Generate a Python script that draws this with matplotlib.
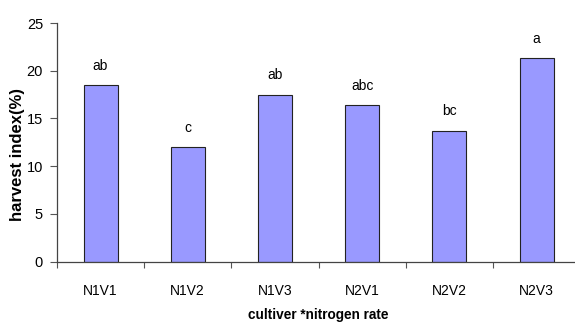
import matplotlib
matplotlib.use("Agg")
import matplotlib.pyplot as plt
import numpy as np

categories = ["N1V1", "N1V2", "N1V3", "N2V1", "N2V2", "N2V3"]
values = [18.5, 12.0, 17.5, 16.4, 13.7, 21.3]
letters = ["ab", "c", "ab", "abc", "bc", "a"]
yticks = [0, 5, 10, 15, 20, 25]

plt.rcParams['font.family'] = ['Liberation Sans', 'DejaVu Sans']

fig = plt.figure(figsize=(5.75, 3.25), dpi=100)
ax = fig.add_axes([0.099, 0.195, 0.91, 0.734])

x = np.arange(len(categories))
ax.bar(x, values, width=0.39, color="#9999FF", edgecolor="#222222", linewidth=0.8)
for xi, v, t in zip(x, values, letters):
    ax.text(xi, v + 1.3, t, ha="center", va="bottom", fontsize=10)

ax.set_xlim(-0.5, len(categories) - 0.5)
ax.set_ylim(0, 25)
ax.set_yticks(yticks)
ax.set_yticklabels([str(t) for t in yticks], fontsize=10.5)

ax.set_xticks(np.arange(len(categories) + 1) - 0.5)
ax.set_xticklabels([])
ax.set_xticks(x, minor=True)
ax.set_xticklabels(categories, minor=True, fontsize=10)
ax.tick_params(axis="x", which="minor", length=0, pad=16)
ax.tick_params(axis="x", which="major", length=4, color="#555555")
ax.tick_params(axis="y", length=5, color="#555555", pad=5)

for s in ["top", "right"]:
    ax.spines[s].set_visible(False)
for s in ["left", "bottom"]:
    ax.spines[s].set_color("#444444")
    ax.spines[s].set_linewidth(0.9)

fig.text(0.031, 0.525, "harvest index(%)", rotation=90, ha="center", va="center",
         fontsize=12, fontweight="bold")
fig.text(0.553, 0.018, "cultiver *nitrogen rate", ha="center", va="baseline",
         fontsize=9.8, fontweight="bold")

fig.savefig("out.png", dpi=100)
